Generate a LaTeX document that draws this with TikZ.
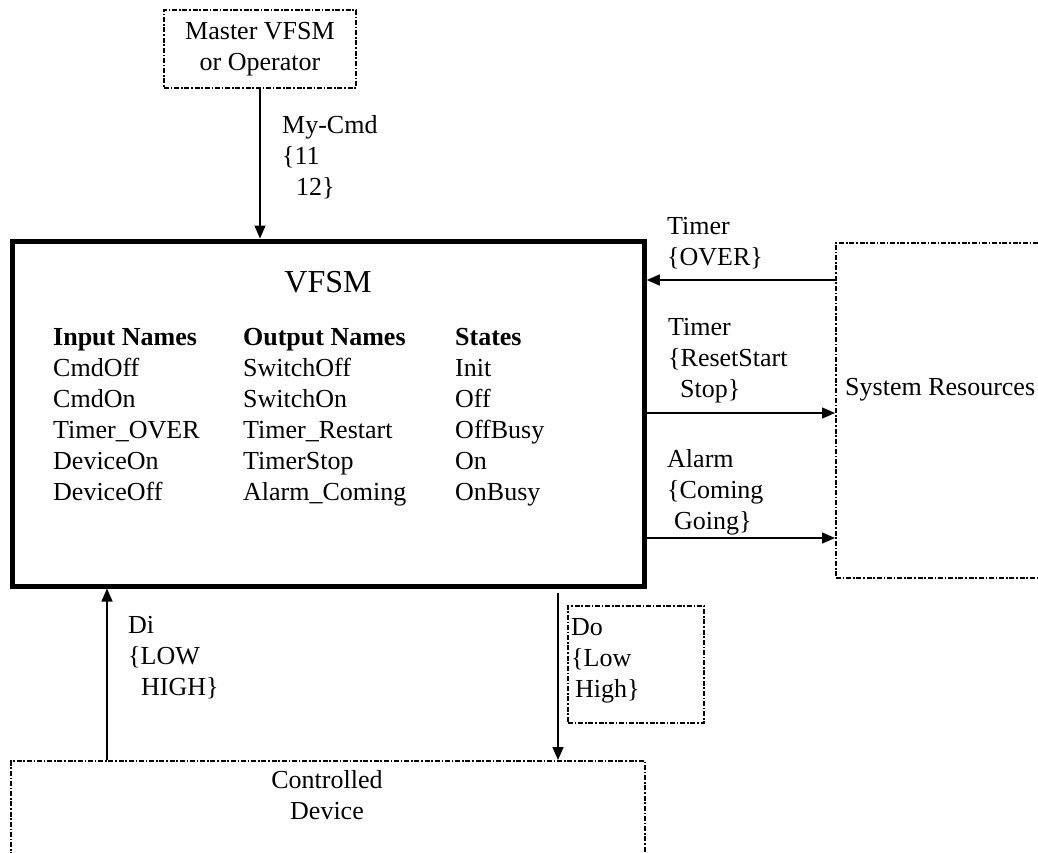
\documentclass[tikz,border=0pt]{standalone}
\usepackage{fontspec}
\setmainfont{Liberation Serif}
\usetikzlibrary{arrows.meta}
\newcommand\mylines[1]{\begin{tabular}[t]{@{}l@{}}#1\end{tabular}}
\begin{document}
\begin{tikzpicture}[x=1pt,y=-1pt,
  every node/.style={inner sep=0pt},
  ddbox/.style={draw, rectangle, line width=1.8pt, dash pattern=on 5pt off 1.8pt on 1.6pt off 1.8pt},
  arr/.style={line width=1.4pt, -{Triangle[length=13pt,width=11pt]}},
  txt/.style={font=\fontsize{26}{31}\selectfont},
  lbl/.style={txt, anchor=base west},
]
\useasboundingbox (0,0) rectangle (1038,852);
\clip (0,0) rectangle (1038,852);

% boxes
\node[ddbox, txt, minimum width=192pt, minimum height=78pt] (master) at (260,49)
  {\begin{tabular}{@{}c@{}}Master VFSM\\or Operator\end{tabular}};
\node[draw, rectangle, line width=5pt, minimum width=632pt, minimum height=345pt] (vfsm) at (328.25,413.5) {};
\node[ddbox, anchor=north west, minimum width=265pt, minimum height=335pt] (sysres) at (835,242) {};
\node[ddbox, anchor=north west, minimum width=634pt, minimum height=140pt] (ctrl) at (10,760) {};
\node[ddbox, anchor=north west, minimum width=136pt, minimum height=117pt] (dobox) at (567,605) {};

% texts
\node[anchor=base, font=\fontsize{32}{38}\selectfont] (title) at (328,292) {VFSM};
\node[lbl] (table) at (53,345) {%
\begin{tabular}[t]{@{}p{190pt}@{}p{212pt}@{}l@{}}
\textbf{Input Names} & \textbf{Output Names} & \textbf{States}\\
CmdOff & SwitchOff & Init\\
CmdOn & SwitchOn & Off\\
Timer\_OVER & Timer\_Restart & OffBusy\\
DeviceOn & TimerStop & On\\
DeviceOff & Alarm\_Coming & OnBusy
\end{tabular}};
\node[lbl] (sysrestxt) at (845,395) {System Resources};
\node[txt, anchor=base] (ctrltxt) at (327,788)
  {\begin{tabular}[t]{@{}c@{}}Controlled\\Device\end{tabular}};

% connector labels
\node[lbl] (lcmd) at (282,133) {\mylines{My-Cmd\\\{11\\\hspace*{14pt}12\}}};
\node[lbl] (lover) at (667,234) {\mylines{Timer\\\{OVER\}}};
\node[lbl] (lreset) at (668,335) {\mylines{Timer\\\{ResetStart\\\hspace*{12pt}Stop\}}};
\node[lbl] (lalarm) at (667,467) {\mylines{Alarm\\\{Coming\\\hspace*{7pt}Going\}}};
\node[lbl] (ldi) at (128,633) {\mylines{Di\\\{LOW\\\hspace*{13pt}HIGH\}}};
\node[lbl] (ldo) at (571,635) {\mylines{Do\\\{Low\\\hspace*{4pt}High\}}};

% helper coordinates
\coordinate (yOver) at (0,280);
\coordinate (yReset) at (0,413);
\coordinate (yAlarm) at (0,538);
\coordinate (xDi) at (107,0);
\coordinate (xDo) at (558,0);

% connectors
\draw[arr] (master.south) -- (master.south |- vfsm.north);
\draw[arr] (sysres.west |- yOver) -- (vfsm.east |- yOver);
\draw[arr] (vfsm.east |- yReset) -- (sysres.west |- yReset);
\draw[arr] (vfsm.east |- yAlarm) -- (sysres.west |- yAlarm);
\draw[arr] (ctrl.north -| xDi) -- (vfsm.south -| xDi);
\draw[arr, shorten <=4pt] (vfsm.south -| xDo) -- (ctrl.north -| xDo);
\end{tikzpicture}
\end{document}
